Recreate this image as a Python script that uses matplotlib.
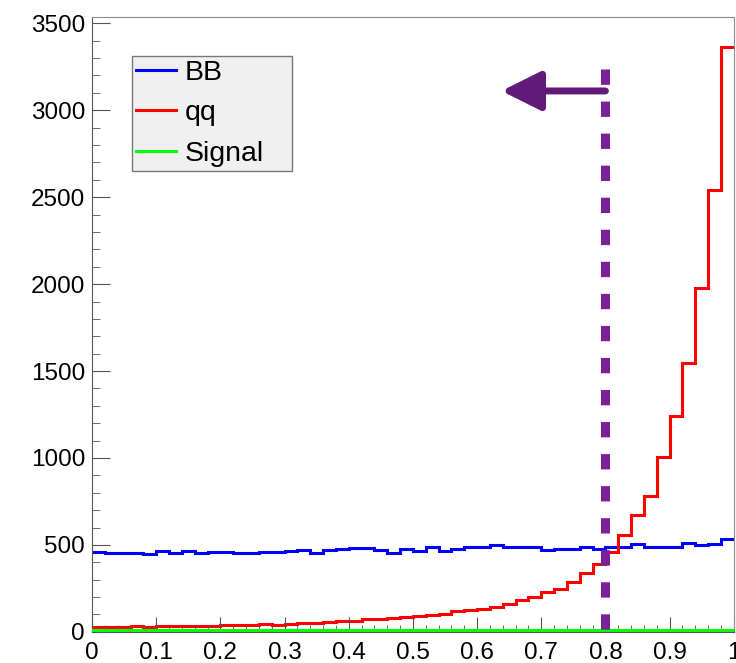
import numpy as np
from matplotlib import pyplot as plt

plt.rcParams['font.family'] = ['Liberation Sans', 'DejaVu Sans']

# 50 bins of width 0.02 between 0 and 1
edges = np.linspace(0, 1, 51)

bb = [460, 455, 452, 456, 448, 467, 455, 465, 456, 462,
      462, 452, 455, 459, 462, 467, 470, 456, 473, 475,
      483, 480, 471, 456, 478, 467, 488, 465, 475, 487,
      490, 500, 490, 490, 487, 471, 478, 475, 487, 478,
      490, 487, 506, 487, 487, 490, 510, 497, 506, 533]

qq = [30, 29, 30, 31, 29, 35, 34, 35, 34, 35,
      37, 38, 42, 43, 42, 44, 50, 50, 54, 63,
      64, 73, 74, 80, 85, 92, 98, 104, 117, 126,
      132, 145, 160, 185, 200, 228, 246, 284, 340, 390,
      458, 555, 672, 783, 1004, 1241, 1548, 1975, 2544, 3362]

signal = [5] * 50

cut = 0.8
cut_top = 3240
arrow_y = 3111
arrow_tip = 0.638

fig = plt.figure(figsize=(7.36, 6.63), dpi=100)
ax = fig.add_axes([0.125, 0.047, 0.872, 0.927])

ax.stairs(bb, edges, baseline=None, color='#0000ff', lw=2.2, label='BB')
ax.stairs(qq, edges, baseline=None, color='#ff0000', lw=2.2, label='qq')
ax.stairs(signal, edges, baseline=None, color='#00ff00', lw=3, label='Signal',
          zorder=3)

# cut line and arrow pointing to the kept region
ax.plot([cut, cut], [cut_top, 0], color='#7b2198', lw=6.5,
        linestyle=(0, (1.7, 1.85)), solid_capstyle='butt', dash_capstyle='butt',
        zorder=4)
ax.annotate('', xy=(arrow_tip, arrow_y), xytext=(cut, arrow_y),
            arrowprops=dict(arrowstyle='-|>,head_length=2.4,head_width=1.2',
                            color='#621a7a', lw=5, shrinkA=0, shrinkB=0))

ax.set_xlim(0, 1)
ax.set_ylim(0, 3535)
ax.set_xticks(np.arange(0, 1.01, 0.1))
ax.set_xticklabels(['0', '0.1', '0.2', '0.3', '0.4', '0.5', '0.6', '0.7', '0.8', '0.9', '1'])
ax.set_xticks(np.arange(0, 1.001, 0.02), minor=True)
ax.set_yticks(np.arange(0, 3501, 500))
ax.set_yticks(np.arange(0, 3501, 100), minor=True)

ax.tick_params(axis='both', which='both', direction='in', color='#555555',
               labelsize=17.5, top=False, right=False)
ax.tick_params(axis='y', which='major', length=13, pad=5)
ax.tick_params(axis='y', which='minor', length=6)
ax.tick_params(axis='x', which='major', length=11, pad=7)
ax.tick_params(axis='x', which='minor', length=5)

for side in ['left', 'bottom']:
    ax.spines[side].set_color('#555555')
for side in ['top', 'right']:
    ax.spines[side].set_color('#8c8c8c')

leg = ax.legend(loc='upper left', bbox_to_anchor=(0.062, 0.75, 0.249, 0.187),
                mode='expand', fontsize=20.5,
                handlelength=1.4, handletextpad=0.3, labelspacing=0.5,
                borderpad=0.15, borderaxespad=0, fancybox=False,
                facecolor='#f0f0f0', edgecolor='#777777', framealpha=1)
for line in leg.get_lines():
    line.set_linewidth(2.2)

fig.savefig('out.png', dpi=100)
